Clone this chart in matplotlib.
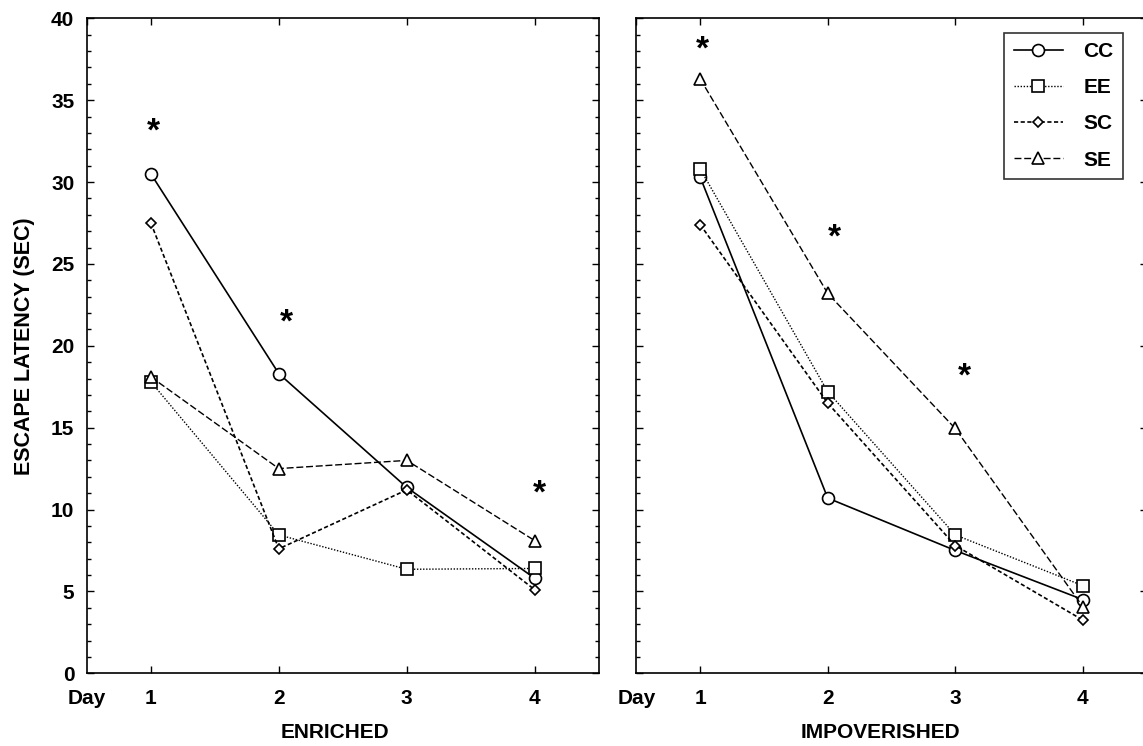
import matplotlib
matplotlib.use("Agg")
import matplotlib.pyplot as plt
from matplotlib.ticker import MultipleLocator

plt.rcParams["font.family"] = ["Liberation Sans", "DejaVu Sans"]
plt.rcParams["font.weight"] = "bold"

days = [1, 2, 3, 4]
groups = ["CC", "EE", "SC", "SE"]

# Mean escape latency (sec) per training day
enriched_cc = [30.5, 18.3, 11.35, 5.8]
enriched_ee = [17.8, 8.45, 6.35, 6.4]
enriched_sc = [27.5, 7.6, 11.2, 5.1]
enriched_se = [18.1, 12.5, 13.0, 8.1]

impoverished_cc = [30.3, 10.7, 7.5, 4.5]
impoverished_ee = [30.8, 17.2, 8.45, 5.35]
impoverished_sc = [27.4, 16.5, 7.8, 3.25]
impoverished_se = [36.3, 23.2, 14.95, 4.07]

# Significance markers (day, height)
enriched_sig_x = [1.02, 2.06, 4.04]
enriched_sig_y = [33.5, 21.8, 11.4]
impoverished_sig_x = [1.02, 2.05, 3.07]
impoverished_sig_y = [38.5, 27.0, 18.5]

day_labels = ["Day", "1", "2", "3", "4"]

styles = {
    "CC": dict(linestyle="-", marker="o", markersize=8.6, linewidth=1.2),
    "EE": dict(linestyle=(0, (1, 1.2)), marker="s", markersize=8.6, linewidth=1.0),
    "SC": dict(linestyle=(0, (2.5, 1.5)), marker="D", markersize=5.0, linewidth=1.2),
    "SE": dict(linestyle=(0, (5, 2)), marker="^", markersize=8.0, linewidth=1.0),
}

fig = plt.figure(figsize=(11.43, 7.46), dpi=100)
ax_l = fig.add_axes([0.0760, 0.0975, 0.4478, 0.878])
ax_r = fig.add_axes([0.5568, 0.0975, 0.4463, 0.878])

FS = 15
STAR_FS = 24


def draw_panel(ax, series, sig_x, sig_y, title, title_x, show_ylabels):
    for name, vals in zip(groups, series):
        st = styles[name]
        ax.plot(days, vals, color="black", markerfacecolor="white",
                markeredgecolor="black", markeredgewidth=1.2, label=name,
                clip_on=False, **st)
    for x, y in zip(sig_x, sig_y):
        ax.annotate("*", (x, y), xytext=(0, -0.47 * STAR_FS), textcoords="offset points",
                    ha="center", va="baseline", fontsize=STAR_FS, fontweight="bold")
    ax.set_xlim(0.5, 4.5)
    ax.set_ylim(0, 40)
    ax.set_xticks([0.5] + days)
    ax.set_xticklabels(day_labels)
    ax.xaxis.get_major_ticks()[0].tick1line.set_visible(False)
    ax.xaxis.get_major_ticks()[0].tick2line.set_visible(False)
    ax.yaxis.set_major_locator(MultipleLocator(5))
    ax.yaxis.set_minor_locator(MultipleLocator(1))
    ax.tick_params(axis="both", which="both", direction="in", top=True, right=True,
                   width=1.0, labelsize=FS)
    ax.tick_params(axis="both", which="major", length=5)
    ax.tick_params(axis="y", which="minor", length=3)
    ax.tick_params(axis="x", which="major", pad=11)
    ax.tick_params(axis="y", which="major", pad=9)
    if not show_ylabels:
        ax.tick_params(axis="y", labelleft=False)
    for lab in ax.get_xticklabels() + ax.get_yticklabels():
        lab.set_fontweight("bold")
    for sp in ax.spines.values():
        sp.set_linewidth(1.2)
    ax.text(title_x, -0.091, title, transform=ax.transAxes, ha="center",
            va="center", fontsize=FS, fontweight="bold")


draw_panel(ax_l, [enriched_cc, enriched_ee, enriched_sc, enriched_se],
           enriched_sig_x, enriched_sig_y, "ENRICHED", 0.485, True)
draw_panel(ax_r, [impoverished_cc, impoverished_ee, impoverished_sc, impoverished_se],
           impoverished_sig_x, impoverished_sig_y, "IMPOVERISHED", 0.4775, False)

ax_l.text(-0.122, 0.5, "ESCAPE LATENCY (SEC)", transform=ax_l.transAxes,
          rotation=90, ha="center", va="center", fontsize=15.5, fontweight="bold")

leg = ax_r.legend(loc="upper right", bbox_to_anchor=(0.954, 0.9776),
                  borderaxespad=0, frameon=True, fancybox=False,
                  edgecolor="black", handlelength=2.35, handletextpad=1.0,
                  labelspacing=0.82, borderpad=0.45,
                  prop={"size": FS, "weight": "bold"})
leg.get_frame().set_linewidth(1.2)

fig.savefig("out.png", dpi=100, facecolor="white")
